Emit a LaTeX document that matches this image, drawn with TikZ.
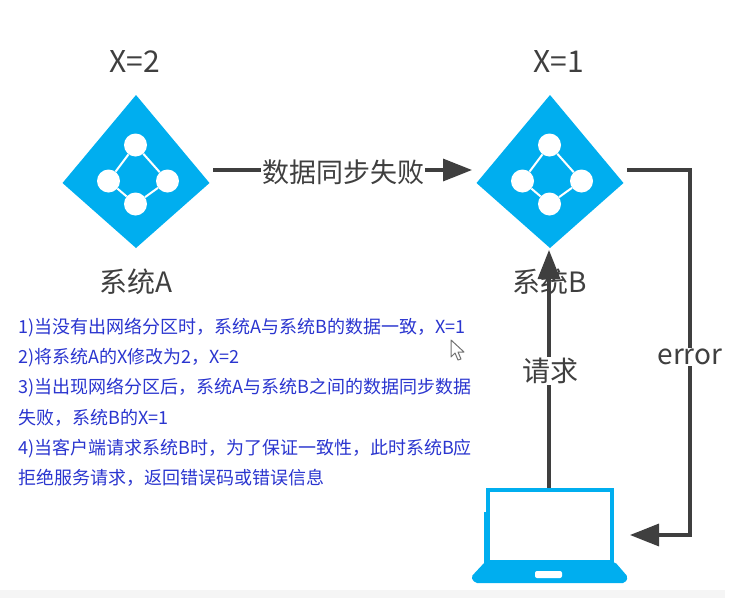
\documentclass[tikz,border=0pt]{standalone}
\usepackage{fontspec}
\setmainfont{Noto Sans CJK SC}
\usetikzlibrary{arrows.meta,positioning}
\definecolor{netblue}{HTML}{00AEEF}
\definecolor{linegray}{HTML}{3F3F3F}
\definecolor{notesblue}{HTML}{2A35CF}
\tikzset{
  dot/.style={circle,fill=white,inner sep=0pt,minimum size=23pt},
  link/.style={white,line width=2pt},
  flow/.style={linegray,line width=3.4pt,-{Triangle[length=29pt,width=22pt]}},
  title/.style={text=linegray,font=\fontsize{28}{30}\selectfont,inner sep=0pt},
  tag/.style={title,fill=white,inner sep=1pt}
}
\begin{document}
\begin{tikzpicture}[x=1pt,y=-1pt]
  \useasboundingbox (0,0) rectangle (756,598);
  \fill[black!4] (0,590) rectangle (725,598);

  % the two systems
  \foreach \sys/\xpos in {sysA/136,sysB/550} {
    \coordinate (\sys) at (\xpos,183);
    \fill[netblue] (\sys) +(0,-88) -- +(73.5,0) -- +(0,65) -- +(-73.5,0) -- cycle;
    \node[dot] (\sys top) at ([shift={(-0.5,-38)}]\sys) {};
    \node[dot] (\sys left) at ([shift={(-27.5,-2)}]\sys) {};
    \node[dot] (\sys right) at ([shift={(31.5,-2)}]\sys) {};
    \node[dot] (\sys bottom) at ([shift={(-0.5,21)}]\sys) {};
    \draw[link] (\sys top) -- (\sys right) -- (\sys bottom) -- (\sys left) -- (\sys top);
  }
  \node[title,font=\fontsize{30}{32}\selectfont] (xA) at (135,62) {X=2};
  \node[title,font=\fontsize{30}{32}\selectfont] (xB) at (559,62) {X=1};

  % the laptop
  \node[draw=netblue,line width=4pt,fill=white,inner sep=0pt,minimum width=124pt,
    minimum height=72pt] (laptop) at (550,526) {};
  \fill[netblue] (484,512) rectangle (489,563);
  \fill[netblue,rounded corners=2pt] (485,562) -- (615,562) -- (628,577) -- (625,583)
    -- (475,583) -- (471,577) -- cycle;
  \fill[white,rounded corners=2pt] (535,571) rectangle (562,578);

  % connectors
  \coordinate (syncStart) at (213,170);
  \coordinate (syncEnd) at (472,170);
  \coordinate (errStart) at (627,170);
  \coordinate (errBend) at (690,535);
  \coordinate (errEnd) at (630,535);
  \coordinate (reqEnd) at (549,250);
  \draw[flow] (syncStart) -- (syncEnd);
  \draw[flow] (laptop.north -| reqEnd) -- (reqEnd);
  \draw[flow] (errStart) -| (errBend) -- (errEnd);
  \node[tag,font=\fontsize{27}{30}\selectfont] (syncLabel) at (343,172) {数据同步失败};
  \node[tag] (reqLabel) at (550,371) {请求};
  \node[tag] (errLabel) at (690,357) {error};
  \node[title] (nameA) at (136,282) {系统A};
  \node[title] (nameB) at (550,282) {系统B};

  % numbered notes
  \node[anchor=north west,inner sep=0pt,align=left,text=notesblue,
    font=\fontsize{18}{30.2}\selectfont] (notes) at (18,318) {%
    1)当没有出网络分区时，系统A与系统B的数据一致，X=1\\
    2)将系统A的X修改为2，X=2\\
    3)当出现网络分区后，系统A与系统B之间的数据同步数据\\
    失败，系统B的X=1\\
    4)当客户端请求系统B时，为了保证一致性，此时系统B应\\
    拒绝服务请求，返回错误码或错误信息};

  % pointer
  \draw[black!55,fill=white,line width=1pt,line join=round] (451,340) -- (451,357) -- (455,353)
    -- (458,360) -- (461,359) -- (458,352) -- (464,352) -- cycle;
\end{tikzpicture}
\end{document}
